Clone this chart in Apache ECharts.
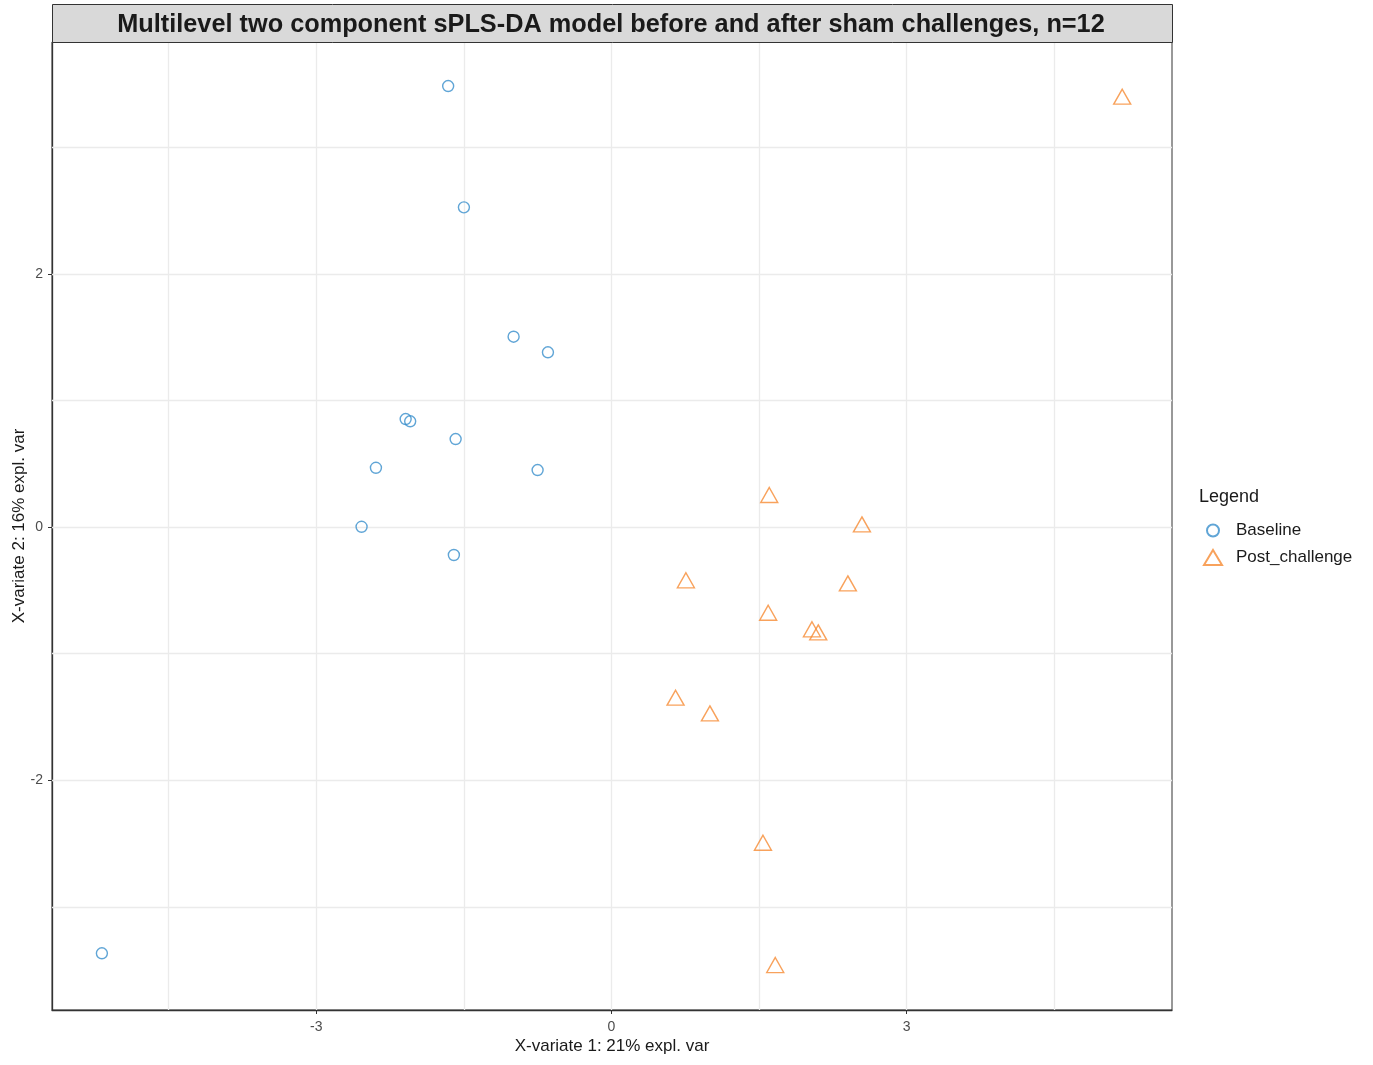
<!DOCTYPE html>
<html>
<head>
<meta charset="utf-8">
<script src="https://cdn.jsdelivr.net/npm/echarts@6/dist/echarts.min.js"></script>
<style>
html,body{margin:0;padding:0;background:#fff;}
#chart{width:1373px;height:1065px;}
</style>
</head>
<body>
<div id="chart"></div>
<script>
// ---- Data ----
const baselineX = [-1.659, -1.499, -0.994, -0.645, -2.091, -2.045, -1.583, -2.393, -0.750, -2.539, -1.601, -5.178];
const baselineY = [ 3.483,  2.525,  1.503,  1.380,  0.853,  0.835,  0.695,  0.468,  0.450,  0.002, -0.221, -3.367];
const postX = [5.191, 1.604, 2.546,  0.757,  2.403,  1.593,  2.038,  2.102,  0.652,  1.001,  1.540,  1.665];
const postY = [3.399, 0.253, 0.021, -0.421, -0.445, -0.677, -0.808, -0.832, -1.348, -1.472, -2.494, -3.460];
const seriesNames = ['Baseline', 'Post_challenge'];
const xTickValues = [-3, 0, 3];
const yTickValues = [-2, 0, 2];
const xMinorGrid = [-4.5, -1.5, 1.5, 4.5];
const yMinorGrid = [-3, -1, 1, 3];
const xRange = [-5.685, 5.697];
const yRange = [-3.815, 3.831];
const titleText = 'Multilevel two component sPLS-DA model before and after sham challenges, n=12';
const xName = 'X-variate 1: 21% expl. var';
const yName = 'X-variate 2: 16% expl. var';
const legendTitle = 'Legend';

const blue = '#388ECC';
const orange = '#F68B33';
const FONT = '"Liberation Sans", Arial, sans-serif';

const chart = echarts.init(document.getElementById('chart'), null, {renderer: 'canvas'});

const zip = (xs, ys) => xs.map((x, i) => [x, ys[i]]);
const gridLineStyle = {color: '#EBEBEB', width: 1.3, type: 'solid'};
const vLines = xTickValues.concat(xMinorGrid).map(v => ({xAxis: v}));
const hLines = yTickValues.concat(yMinorGrid).map(v => ({yAxis: v}));

const option = {
  animation: false,
  backgroundColor: '#ffffff',
  textStyle: {fontFamily: FONT},
  grid: {left: 52, right: 201, top: 42, bottom: 55, containLabel: false, outerBoundsMode: 'none',
         show: true, borderColor: '#333333', borderWidth: 1, backgroundColor: '#ffffff'},
  xAxis: {
    type: 'value', min: xRange[0], max: xRange[1],
    name: xName, nameLocation: 'middle', nameGap: 28, nameMoveOverlap: false,
    nameTextStyle: {fontSize: 17, color: '#1a1a1a', fontFamily: FONT},
    axisLine: {show: true, onZero: false, lineStyle: {color: '#333333', width: 1.3}},
    axisTick: {show: true, length: 4, customValues: xTickValues, lineStyle: {color: '#333333'}},
    axisLabel: {customValues: xTickValues, fontSize: 14, color: '#4D4D4D', margin: 10, fontFamily: FONT},
    splitLine: {show: false}
  },
  yAxis: {
    type: 'value', min: yRange[0], max: yRange[1],
    name: yName, nameLocation: 'middle', nameGap: 24, nameRotate: 90, nameMoveOverlap: false,
    nameTextStyle: {fontSize: 17, color: '#1a1a1a', fontFamily: FONT},
    axisLine: {show: true, onZero: false, lineStyle: {color: '#333333', width: 1.3}},
    axisTick: {show: true, length: 4, customValues: yTickValues, lineStyle: {color: '#333333'}},
    axisLabel: {customValues: yTickValues, fontSize: 14, color: '#4D4D4D', margin: 9, fontFamily: FONT},
    splitLine: {show: false}
  },
  legend: [
    {
      data: [seriesNames[0]], orient: 'vertical', left: 1206, top: 522, padding: 0,
      itemWidth: 12, itemHeight: 12,
      textStyle: {fontSize: 17, color: '#1a1a1a', fontFamily: FONT, padding: [0, 0, 0, 12]},
      selectedMode: false
    },
    {
      data: [seriesNames[1]], orient: 'vertical', left: 1203, top: 549, padding: 0,
      itemWidth: 18, itemHeight: 15,
      textStyle: {fontSize: 17, color: '#1a1a1a', fontFamily: FONT, padding: [0, 0, 0, 9]},
      selectedMode: false
    }
  ],
  graphic: [
    {type: 'rect', left: 52, top: 4, z: 10, shape: {width: 1120, height: 38},
     style: {fill: '#D9D9D9', stroke: '#333333', lineWidth: 1}},
    {type: 'text', x: 611, y: 25, z: 11,
     style: {text: titleText, font: 'bold 25.3px ' + FONT, fill: '#1a1a1a', textAlign: 'center', textVerticalAlign: 'middle'}},
    {type: 'text', x: 1199, y: 497, z: 11,
     style: {text: legendTitle, font: '18px ' + FONT, fill: '#1a1a1a', textAlign: 'left', textVerticalAlign: 'middle'}}
  ],
  series: [
    {
      name: '_grid', type: 'scatter', data: [], z: 1, silent: true,
      markLine: {silent: true, symbol: ['none', 'none'], label: {show: false}, lineStyle: gridLineStyle,
                 emphasis: {disabled: true}, animation: false, data: vLines.concat(hLines)}
    },
    {
      name: seriesNames[0], type: 'scatter', z: 5, symbol: 'circle', symbolSize: 11,
      itemStyle: {color: 'rgba(255,255,255,0)', borderColor: blue, borderWidth: 1.4},
      data: zip(baselineX, baselineY)
    },
    {
      name: seriesNames[1], type: 'scatter', z: 5, symbol: 'triangle', symbolSize: [17, 15],
      itemStyle: {color: 'rgba(255,255,255,0)', borderColor: orange, borderWidth: 1.4},
      data: zip(postX, postY)
    }
  ]
};
chart.setOption(option);
</script>
</body>
</html>
